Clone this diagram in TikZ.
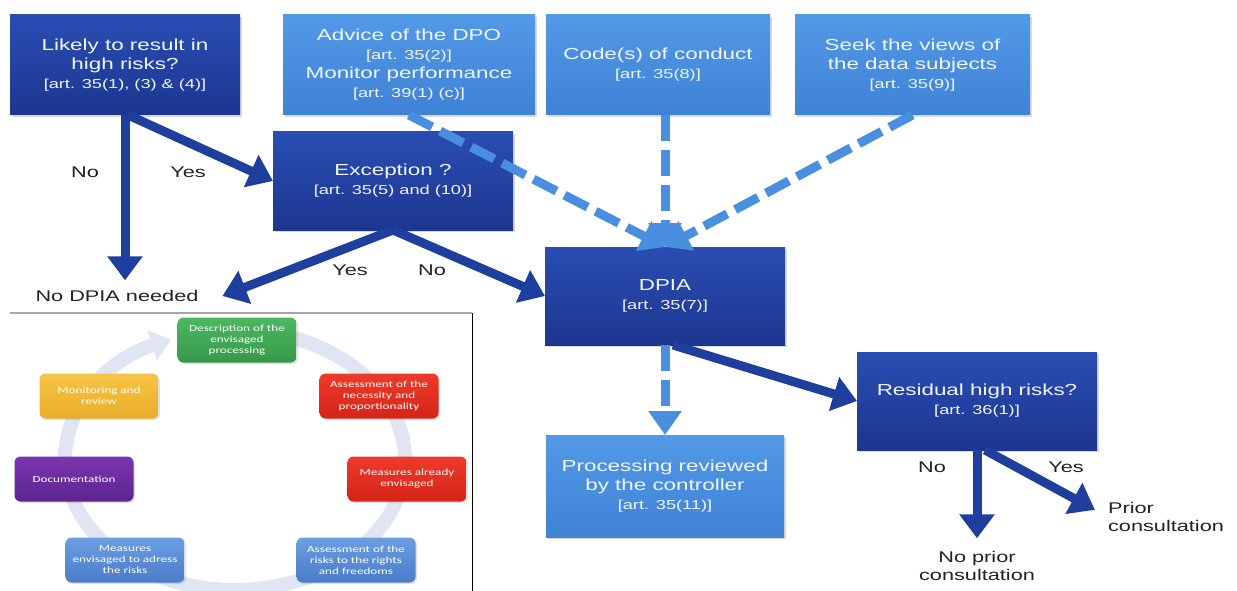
\documentclass[tikz,border=0pt]{standalone}
\usepackage{fontspec}
\setmainfont{Liberation Sans}[FakeStretch=1.4]
\newfontfamily\insetfont{Carlito}[FakeStretch=1.4]
\usepackage{xcolor}
\usepackage{tikz}
\usetikzlibrary{positioning,arrows.meta,shadows}

\definecolor{darktop}{HTML}{2A4DB3}
\definecolor{darkbot}{HTML}{1C3690}
\definecolor{lighttop}{HTML}{5299E6}
\definecolor{lightbot}{HTML}{3F82D6}
\definecolor{arrowdark}{HTML}{1F3F9E}
\definecolor{dashblue}{HTML}{4A8EE0}
\definecolor{labelgray}{HTML}{222222}
\definecolor{boxtext}{HTML}{F0F4FB}
\definecolor{ring}{HTML}{E0E5F3}
\definecolor{greentop}{HTML}{4CB860}
\definecolor{greenbot}{HTML}{36984A}
\definecolor{redtop}{HTML}{EE3A2A}
\definecolor{redbot}{HTML}{D42418}
\definecolor{purpletop}{HTML}{7A36AE}
\definecolor{purplebot}{HTML}{5E2490}
\definecolor{yellowtop}{HTML}{F5C445}
\definecolor{yellowbot}{HTML}{E9AE28}
\definecolor{bluetop}{HTML}{6C9EE2}
\definecolor{bluebot}{HTML}{4A7CC8}

\newcommand{\art}[1]{{\fontsize{13}{15}\selectfont [art. #1]}}

\begin{document}
\begin{tikzpicture}[x=1pt, y=-1pt, node distance=0pt, outer sep=0pt,
    darkstep/.style={rectangle, minimum width=240pt, minimum height=98pt, top color=darktop, bottom color=darkbot, text=boxtext, align=center, font=\fontsize{16}{19}\selectfont, drop shadow={shadow xshift=2pt, shadow yshift=-2pt, opacity=0.3}},
    lightstep/.style={darkstep, top color=lighttop, bottom color=lightbot},
    phase/.style={rectangle, rounded corners=6pt, minimum width=119pt, minimum height=45pt, text=white, align=center, font=\insetfont\fontsize{9.4}{11}\selectfont, drop shadow={shadow xshift=1.5pt, shadow yshift=-1.5pt, opacity=0.25}},
    answer/.style={text=labelgray, inner sep=0pt, font=\fontsize{15.5}{18}\selectfont},
    outcome/.style={answer, align=center},
    yesno/.style={line width=9pt, draw=arrowdark, -{Triangle[width=34pt,length=24pt]}},
    feed/.style={line width=9pt, draw=dashblue, dash pattern=on 26pt off 9pt, -{Triangle[width=32pt,length=24pt]}}]

    \useasboundingbox (0,0) rectangle (1237,591);

    \draw[line width=14pt, draw=ring, -{Triangle[width=30pt,length=20pt]}] (235,460) ++(-95:170 and 130) arc[start angle=-95, end angle=248, x radius=170, y radius=130];
    \draw[gray!70, line width=1.2pt] (10,313) -- (472,313);
    \draw[black, line width=1pt] (472,313) -- (472,591);

    \node[phase, top color=greentop, bottom color=greenbot] (describe) at (237,340) {Description of the\\ envisaged\\ processing};
    \node[phase, top color=redtop, bottom color=redbot] (necessity) at (379,396) {Assessment of the\\ necessity and\\ proportionality};
    \node[phase, top color=redtop, bottom color=redbot] (already) at (407,479) {Measures already\\ envisaged};
    \node[phase, top color=bluetop, bottom color=bluebot] (rights) at (356,560) {Assessment of the\\ risks to the rights\\ and freedoms};
    \node[phase, top color=bluetop, bottom color=bluebot] (address) at (125,560) {Measures\\ envisaged to adress\\ the risks};
    \node[phase, top color=purpletop, bottom color=purplebot] (document) at (74,479) {Documentation};
    \node[phase, top color=yellowtop, bottom color=yellowbot] (monitor) at (99,396) {Monitoring and\\ review};

    \node[darkstep, minimum width=230pt, minimum height=100pt] (likely) at (125,65) {Likely to result in\\ high risks?\\ \art{35(1), (3) \& (4)}};
    \node[lightstep, minimum width=252pt, minimum height=100pt] (advice) at (409,65) {Advice of the DPO\\ \art{35(2)}\\ Monitor performance\\ \art{39(1) (c)}};
    \node[lightstep, minimum width=224pt, minimum height=100pt, right=11pt of advice] (conduct) {Code(s) of conduct\\ \art{35(8)}};
    \node[lightstep, minimum width=235pt, minimum height=100pt, right=25pt of conduct] (views) {Seek the views of\\ the data subjects\\ \art{35(9)}};
    \node[darkstep] (exception) at (393,181) {Exception ?\\ \art{35(5) and (10)}};
    \node[darkstep] (dpia) at (665,296) {DPIA\\ \art{35(7)}};
    \node[lightstep, minimum width=238pt, minimum height=102pt, below=90pt of dpia] (review) {Processing reviewed\\ by the controller\\ \art{35(11)}};
    \node[darkstep] (residual) at (977,401) {Residual high risks?\\ \art{36(1)}};

    \node[outcome] (nodpia) at (117,296) {No DPIA needed};
    \node[outcome] (noprior) at (977,566) {No prior\\ consultation};
    \node[outcome, align=left] (prior) at (1166,517) {Prior\\ consultation};

    \node[answer] (no1) at (85,172) {No};
    \node[answer] (yes1) at (188,172) {Yes};
    \node[answer] (yes2) at (350,270) {Yes};
    \node[answer] (no2) at (432,270) {No};
    \node[answer] (no3) at (932,467) {No};
    \node[answer] (yes3) at (1066,467) {Yes};

    \draw[feed] (advice.south) -- (dpia.north);
    \draw[feed] (dpia.north |- conduct.south) -- (dpia.north);
    \draw[feed] (views.south) -- (dpia.north);
    \draw[feed] (dpia.south) -- (review.north);

    \draw[yesno, shorten >=10pt] (likely.south) -- (likely.south |- nodpia.north);
    \draw[yesno] ([xshift=3pt]likely.south) -- (exception.west);
    \draw[yesno] (exception.south) -- ([xshift=24pt]nodpia.east);
    \draw[yesno] (exception.south) -- (dpia.west);
    \draw[yesno] ([xshift=8pt]dpia.south) -- (residual.west);
    \draw[yesno, shorten >=13pt] (residual.south) -- (noprior.north);
    \draw[yesno, shorten >=15pt] ([xshift=8pt]residual.south) -- (prior.west);
\end{tikzpicture}
\end{document}
